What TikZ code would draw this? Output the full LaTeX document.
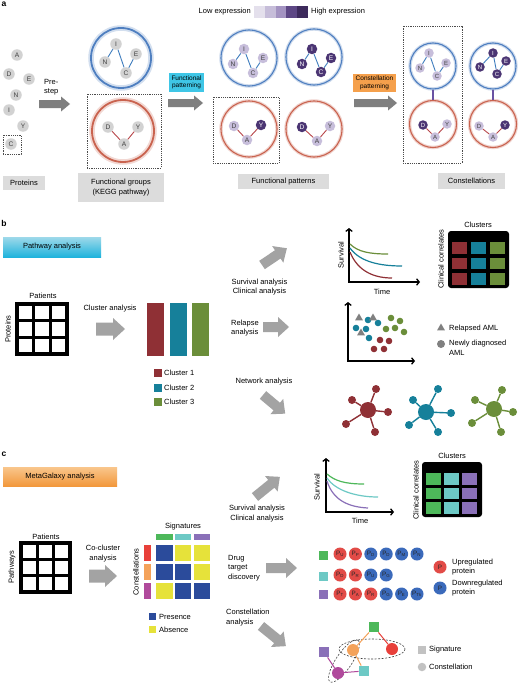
\documentclass[tikz,border=0pt]{standalone}
\usepackage{fontspec}
\setmainfont{Liberation Sans}
\usetikzlibrary{arrows.meta,shapes.geometric}
\definecolor{agrayA}{HTML}{7F7F7F}
\definecolor{agray}{HTML}{A3A3A3}
\definecolor{boxgray}{HTML}{DCDCDC}
\definecolor{protgray}{HTML}{D2D2D2}
\definecolor{lightpur}{HTML}{C7BEDB}
\definecolor{darkpur}{HTML}{4B3573}
\definecolor{ringblue}{HTML}{4F7FC0}
\definecolor{ringred}{HTML}{C9634F}
\definecolor{edgeblue}{HTML}{3F7DBE}
\definecolor{edgered}{HTML}{B8464A}
\definecolor{conpur}{HTML}{6A52A2}
\definecolor{ex1}{HTML}{E4E0EC}
\definecolor{ex2}{HTML}{C6BDD9}
\definecolor{ex3}{HTML}{A393C1}
\definecolor{ex4}{HTML}{5D4785}
\definecolor{ex5}{HTML}{3D2A5C}
\definecolor{cyanbox}{HTML}{3FC6E6}
\definecolor{orangebox}{HTML}{F5A04C}
\definecolor{cred}{HTML}{8F3035}
\definecolor{cteal}{HTML}{16809A}
\definecolor{cgreen}{HTML}{6B8E3A}
\definecolor{sgreen}{HTML}{4DB85A}
\definecolor{scyan}{HTML}{6DC9C5}
\definecolor{spurple}{HTML}{8A70B8}
\definecolor{cnred}{HTML}{E8403A}
\definecolor{cnorange}{HTML}{F4A25A}
\definecolor{cnmag}{HTML}{B04A9C}
\definecolor{mblue}{HTML}{2B4B9B}
\definecolor{myellow}{HTML}{E6E23A}
\definecolor{pred}{HTML}{E24B47}
\definecolor{pblue}{HTML}{3B6ABB}
\definecolor{legray}{HTML}{C2C2C2}
\definecolor{trigray}{HTML}{808080}
\definecolor{pathtop}{HTML}{9ED9EA}
\definecolor{pathbot}{HTML}{1FB3DC}
\definecolor{metatop}{HTML}{F9C68C}
\definecolor{metabot}{HTML}{F2983C}
\newcommand{\barrow}[8]{\fill[#8,shift={(#1,#2)},rotate=#3] (0,-#5/2) -- ({#4-#7},-#5/2) -- ({#4-#7},-#6/2) -- (#4,0) -- ({#4-#7},#6/2) -- ({#4-#7},#5/2) -- (0,#5/2) -- cycle;}
\newcommand{\patgrid}[4]{%
  \fill[white] (#1,#2) rectangle (#3,#4);
  \foreach \k in {1,2} {
    \draw[line width=3.4pt] ({#1+\k*(#3-#1)/3},#2) -- ({#1+\k*(#3-#1)/3},#4);
    \draw[line width=3.4pt] (#1,{#2+\k*(#4-#2)/3}) -- (#3,{#2+\k*(#4-#2)/3});
  }
  \draw[line width=3.4pt] (#1,#2) rectangle (#3,#4);
}
\begin{document}
\begin{tikzpicture}[x=1pt,y=-1pt,
 txt/.style={inner sep=0pt,font=\fontsize{7.5}{9.5}\selectfont,align=center},
 small/.style={inner sep=0pt,font=\fontsize{6.5}{7.6}\selectfont,align=center},
 lbl/.style={inner sep=0pt,font=\fontsize{8.5}{10}\selectfont\bfseries},
 gbox/.style={txt,fill=boxgray},
 pn/.style={circle,fill=protgray,minimum size=11.5pt,inner sep=0pt,font=\fontsize{6.6}{7}\selectfont,text=black!75},
 lo/.style={pn,fill=lightpur,minimum size=10.5pt},
 hi/.style={pn,fill=darkpur,text=white,minimum size=10.5pt},
 clo/.style={lo,minimum size=9.5pt,font=\fontsize{6}{6.5}\selectfont},
 chi/.style={hi,minimum size=9.5pt,font=\fontsize{6}{6.5}\selectfont},
 bring/.style={circle,draw=ringblue,line width=1.1pt,inner sep=0pt,preaction={draw=ringblue!28,line width=3.4pt}},
 rring/.style={circle,draw=ringred,line width=1.1pt,inner sep=0pt,preaction={draw=ringred!28,line width=3.4pt}},
 bringg/.style={circle,draw=ringblue,line width=1.8pt,inner sep=0pt,preaction={draw=ringblue!25,line width=5.5pt}},
 rringg/.style={circle,draw=ringred,line width=1.8pt,inner sep=0pt,preaction={draw=ringred!25,line width=5.5pt}},
 ebl/.style={draw=edgeblue,line width=0.9pt},
 erd/.style={draw=edgered,line width=0.9pt},
 dbox/.style={draw=black!70,dash pattern=on 1.2pt off 1pt,line width=0.5pt,inner sep=0pt},
 axis/.style={line width=1.3pt,{Straight Barb[length=2.6pt,width=6.5pt]}-{Straight Barb[length=2.6pt,width=6.5pt]}},
 curve/.style={line width=1.2pt},
 cell/.style={inner sep=0pt,minimum width=15pt,minimum height=11.5pt},
 dot/.style={circle,inner sep=0pt,minimum size=6.6pt,fill=#1},
 tri/.style={regular polygon,regular polygon sides=3,inner sep=0pt,minimum size=9pt,fill=trigray},
 hub/.style={circle,inner sep=0pt,minimum size=16pt,fill=#1},
 sat/.style={circle,inner sep=0pt,minimum size=8pt,fill=#1},
 pc/.style={circle,inner sep=0pt,minimum size=13pt,fill=#1,font=\fontsize{6.3}{6.5}\selectfont,text=black!85},
 sq/.style={inner sep=0pt,minimum size=10.5pt,fill=#1},
 cn/.style={circle,inner sep=0pt,minimum size=12pt,fill=#1},
 dsh/.style={draw=black!75,dash pattern=on 2pt off 1.5pt,line width=0.6pt},
]
\useasboundingbox (0,0) rectangle (522,685);
\fill[white] (0,0) rectangle (522,685);

%================ panel a =================
\node[lbl] (la) at (4,4) {a};
\node[pn] (pA) at (17,55) {A};
\node[pn] (pD) at (9,74) {D};
\node[pn] (pE) at (29,79) {E};
\node[pn] (pN) at (16,95) {N};
\node[pn] (pI) at (9,110) {I};
\node[pn] (pY) at (23,126) {Y};
\node[pn] (pC) at (11,144) {C};
\node[dbox,minimum width=18pt,minimum height=19pt] (selC) at (12,144.5) {};
\node[txt,anchor=west,align=left] (prestep) at (44,87) {Pre-\\step};
\barrow{39}{104}{0}{31}{8}{15}{9}{agrayA}
\node[gbox,minimum width=42pt,minimum height=14pt] (tProt) at (24,183) {Proteins};

% functional groups
\node[bringg,minimum size=60pt] (gB) at (121,58) {};
\node[pn] (gI) at (116,44) {I};
\node[pn] (gN) at (105,62) {N};
\node[pn] (gC) at (126,73) {C};
\node[pn] (gE) at (136,54) {E};
\draw[ebl] (gN) -- (gI) -- (gC) -- (gE);
\node[dbox,minimum width=74pt,minimum height=74pt] (gsel) at (124,131) {};
\node[rringg,minimum size=62pt] (gR) at (123,131) {};
\node[pn] (gD) at (108,127) {D};
\node[pn] (gY) at (138,127) {Y};
\node[pn] (gA) at (124,144) {A};
\draw[erd] (gD) -- (gA) -- (gY);
\node[gbox,minimum width=86pt,minimum height=29pt] (tFG) at (121,187.5) {Functional groups\\(KEGG pathway)};

% functional patterning
\node[small,fill=cyanbox,minimum width=35pt,minimum height=19pt] (fpat) at (186.5,82.5) {Functional\\patterning};
\barrow{168}{103}{0}{35}{8}{15}{9}{agrayA}

% expression legend
\node[txt,anchor=east] (lowx) at (251,12) {Low expression};
\foreach \c [count=\i from 0] in {ex1,ex2,ex3,ex4,ex5} \fill[\c] ({254+\i*10.8},6) rectangle ++(10.8,12);
\node[txt,anchor=west] (highx) at (311,12) {High expression};

% functional patterns
\node[bring,minimum size=56pt] (fpB1) at (249,58) {};
\node[bring,minimum size=56pt] (fpB2) at (314,57) {};
\node[dbox,minimum width=66pt,minimum height=66pt] (fpsel) at (246,130) {};
\node[rring,minimum size=56pt] (fpR1) at (249,129) {};
\node[rring,minimum size=56pt] (fpR2) at (314,129) {};
\node[lo] (f1I) at (244,49) {I};
\node[lo] (f1N) at (233,64) {N};
\node[lo] (f1C) at (253,73) {C};
\node[lo] (f1E) at (263,58) {E};
\draw[ebl] (f1N) -- (f1I) -- (f1C) -- (f1E);
\node[hi] (f2I) at (312,49) {I};
\node[hi] (f2N) at (302,64) {N};
\node[hi] (f2C) at (321,72) {C};
\node[hi] (f2E) at (331,58) {E};
\draw[ebl] (f2N) -- (f2I) -- (f2C) -- (f2E);
\node[lo] (f3D) at (234,126) {D};
\node[hi] (f3Y) at (261,125) {Y};
\node[lo] (f3A) at (247,140) {A};
\draw[erd] (f3D) -- (f3A) -- (f3Y);
\node[hi] (f4D) at (302,127) {D};
\node[lo] (f4Y) at (330,126) {Y};
\node[lo] (f4A) at (317,141) {A};
\draw[erd] (f4D) -- (f4A) -- (f4Y);
\node[gbox,minimum width=91pt,minimum height=15pt] (tFP) at (283.5,181.5) {Functional patterns};

% constellation patterning
\node[small,fill=orangebox,minimum width=43pt,minimum height=18pt] (cpat) at (374.5,83) {Constellation\\patterning};
\barrow{354}{103}{0}{43}{8}{15}{9}{agrayA}

% constellations
\node[dbox,minimum width=59pt,minimum height=137pt] (csel) at (432.5,94.5) {};
\node[bring,minimum size=46pt] (cB1) at (433,66) {};
\node[rring,minimum size=47pt] (cR1) at (433,124) {};
\node[bring,minimum size=46pt] (cB2) at (493,66) {};
\node[rring,minimum size=47pt] (cR2) at (493,124) {};
\draw[conpur,line width=2.2pt] (cB1) -- (cR1);
\draw[conpur,line width=2.2pt] (cB2) -- (cR2);
\node[clo] (k1I) at (429,53) {I};
\node[clo] (k1N) at (420,68) {N};
\node[clo] (k1C) at (437,76) {C};
\node[clo] (k1E) at (446,63) {E};
\draw[ebl] (k1N) -- (k1I) -- (k1C) -- (k1E);
\node[chi] (k2I) at (493,53) {I};
\node[chi] (k2N) at (480,67) {N};
\node[chi] (k2C) at (497,74) {C};
\node[chi] (k2E) at (506,61) {E};
\draw[ebl] (k2N) -- (k2I) -- (k2C) -- (k2E);
\node[chi] (k3D) at (423,125) {D};
\node[clo] (k3Y) at (447,124) {Y};
\node[clo] (k3A) at (435,137) {A};
\draw[erd] (k3D) -- (k3A) -- (k3Y);
\node[clo] (k4D) at (479,126) {D};
\node[chi] (k4Y) at (505,125) {Y};
\node[clo] (k4A) at (493,137) {A};
\draw[erd] (k4D) -- (k4A) -- (k4Y);
\node[gbox,minimum width=67pt,minimum height=16pt] (tCon) at (471.5,181) {Constellations};

%================ panel b =================
\node[lbl] (lb) at (4,223) {b};
\node[txt,shading=axis,top color=pathtop,bottom color=pathbot,minimum width=98pt,minimum height=20pt] (pathbox) at (52,247) {Pathway analysis};
\node[txt] (bpat) at (43,296) {Patients};
\patgrid{17}{304}{67}{354}
\node[txt,rotate=90] (bprot) at (8,329) {Proteins};
\node[txt] (bclu) at (110,309) {Cluster analysis};
\barrow{96}{329}{0}{29}{13}{22}{12}{agray}
\fill[cred] (147,303) rectangle (164,356);
\fill[cteal] (170,303) rectangle (187,356);
\fill[cgreen] (192,303) rectangle (209,356);
\node[sq=cred,minimum size=7.5pt] (lg1) at (158,373) {};
\node[txt,anchor=west] at (164,373) {Cluster 1};
\node[sq=cteal,minimum size=7.5pt] (lg2) at (158,388) {};
\node[txt,anchor=west] at (164,388) {Cluster 2};
\node[sq=cgreen,minimum size=7.5pt] (lg3) at (158,402) {};
\node[txt,anchor=west] at (164,402) {Cluster 3};

\barrow{262}{265}{34}{30}{10}{20}{11}{agray}
\node[txt] (bsurv) at (259.5,287) {Survival analysis\\Clinical analysis};
\barrow{263}{327}{0}{26}{10}{20}{11}{agray}
\node[txt,anchor=west,align=left] (brel) at (231,328) {Relapse\\analysis};
\node[txt] (bnet) at (264,382) {Network analysis};
\barrow{263}{395}{-40}{29}{10}{20}{11}{agray}

% survival plot b
\draw[axis] (349,228) -- (349,282) -- (420,282);
\draw[cgreen,curve] (350,244) .. controls (358,252) and (370,254) .. (388,254);
\draw[cteal,curve] (350,248) .. controls (360,262) and (380,266) .. (402,266);
\draw[cred,curve] (350,252) .. controls (358,272) and (375,278) .. (392,278);
\node[txt,rotate=90] (bsy) at (341,255) {Survival};
\node[txt] (bst) at (382,292) {Time};

% clusters table b
\node[txt] (bclh) at (478,225) {Clusters};
\node[txt,rotate=90] (bcc) at (441,259) {Clinical correlates};
\fill[black,rounded corners=3pt] (448,231) rectangle (509,288);
\foreach \r in {0,1,2} {
  \node[cell,fill=cred,anchor=north west] at (452,{242+\r*15.5}) {};
  \node[cell,fill=cteal,anchor=north west] at (471,{242+\r*15.5}) {};
  \node[cell,fill=cgreen,anchor=north west] at (490,{242+\r*15.5}) {};
}

% scatter b
\draw[axis] (348,302) -- (348,361) -- (415,361);
\foreach \p in {(368,320),(378,323),(356,328),(366,329),(369,338)} \node[dot=cteal] at \p {};
\foreach \p in {(391,318),(400,321),(386,329),(395,328),(404,332)} \node[dot=cgreen] at \p {};
\foreach \p in {(380,340),(389,341),(374,349),(384,349)} \node[dot=cred] at \p {};
\foreach \p in {(359,318),(373,318),(361,333)} \node[tri] at \p {};
\node[tri] (ltri) at (441,328) {};
\node[txt,anchor=west] (lrel) at (449,329) {Relapsed AML};
\node[circle,fill=trigray,inner sep=0pt,minimum size=8pt] (lcir) at (441,344) {};
\node[txt,anchor=west,align=left] (lnew) at (449,348) {Newly diagnosed\\AML};

% networks b
\node[hub=cred] (n1) at (368,410) {};
\node[sat=cred] (n1a) at (376,389) {};
\node[sat=cred] (n1b) at (352,400) {};
\node[sat=cred] (n1c) at (388,412) {};
\node[sat=cred] (n1d) at (346,424) {};
\node[sat=cred] (n1e) at (375,432) {};
\foreach \s in {a,b,c,d,e} \draw[cred,line width=1.4pt] (n1) -- (n1\s);
\node[hub=cteal] (n2) at (426,412) {};
\node[sat=cteal] (n2a) at (438,389) {};
\node[sat=cteal] (n2b) at (413,400) {};
\node[sat=cteal] (n2c) at (451,413) {};
\node[sat=cteal] (n2d) at (409,425) {};
\node[sat=cteal] (n2e) at (438,432) {};
\foreach \s in {a,b,c,d,e} \draw[cteal,line width=1.4pt] (n2) -- (n2\s);
\node[hub=cgreen] (n3) at (494,409) {};
\node[sat=cgreen] (n3a) at (502,390) {};
\node[sat=cgreen] (n3b) at (475,400) {};
\node[sat=cgreen] (n3c) at (513,412) {};
\node[sat=cgreen] (n3d) at (472,423) {};
\node[sat=cgreen] (n3e) at (501,432) {};
\foreach \s in {a,b,c,d,e} \draw[cgreen,line width=1.4pt] (n3) -- (n3\s);

%================ panel c =================
\node[lbl] (lc) at (4,454) {c};
\node[txt,shading=axis,top color=metatop,bottom color=metabot,minimum width=114pt,minimum height=19pt] (metabox) at (60,476.5) {MetaGalaxy analysis};
\node[txt] (cpatn) at (46,537) {Patients};
\patgrid{21}{543}{70}{592}
\node[txt,rotate=90] (cpath) at (12,567) {Pathways};
\node[txt] (cco) at (103,553.5) {Co-cluster\\analysis};
\barrow{89}{576}{0}{28}{13}{22}{12}{agray}
\node[txt] (csig) at (183,527) {Signatures};
\fill[sgreen] (156,534) rectangle (173,540);
\fill[scyan] (175,534) rectangle (191,540);
\fill[spurple] (194,534) rectangle (210,540);
\fill[cnred] (144,545) rectangle (151,561);
\fill[cnorange] (144,564) rectangle (151,580);
\fill[cnmag] (144,583) rectangle (151,599);
\node[txt,rotate=90] (ccons) at (136,572) {Constellations};
\fill[mblue] (156,545) rectangle (173,561);
\fill[myellow] (175,545) rectangle (191,561);
\fill[myellow] (194,545) rectangle (210,561);
\fill[mblue] (156,564) rectangle (173,580);
\fill[mblue] (175,564) rectangle (191,580);
\fill[myellow] (194,564) rectangle (210,580);
\fill[myellow] (156,583) rectangle (173,599);
\fill[mblue] (175,583) rectangle (191,599);
\fill[mblue] (194,583) rectangle (210,599);
\node[sq=mblue,minimum size=7pt] (lpres) at (152.5,616.5) {};
\node[txt,anchor=west] at (159,617) {Presence};
\node[sq=myellow,minimum size=7pt] (labs) at (152.5,629.5) {};
\node[txt,anchor=west] at (159,630) {Absence};

\barrow{255}{497}{39}{32}{10}{20}{11}{agray}
\node[txt] (csurv) at (257,513.5) {Survival analysis\\Clinical analysis};
\node[txt,anchor=west,align=left] (cdrug) at (228,568) {Drug\\target\\discovery};
\barrow{266}{568}{0}{31}{10}{20}{11}{agray}
\node[txt,anchor=west,align=left] (ccan) at (226,617.5) {Constellation\\analysis};
\barrow{261}{626}{-39}{32}{10}{20}{11}{agray}

% survival plot c
\draw[axis] (326,458) -- (326,512) -- (394,512);
\draw[sgreen,curve] (327,474) .. controls (335,481) and (345,484) .. (364,484);
\draw[scyan,curve] (327,478) .. controls (335,490) and (355,497) .. (378,497);
\draw[spurple,curve] (327,481) .. controls (333,500) and (348,507) .. (368,508);
\node[txt,rotate=90] (csy) at (317,487) {Survival};
\node[txt] (cst) at (360,521) {Time};

% clusters table c
\node[txt] (cclh) at (452,456) {Clusters};
\node[txt,rotate=90] (ccc) at (416,490) {Clinical correlates};
\fill[black,rounded corners=3pt] (422,462) rectangle (482,517);
\foreach \r in {0,1,2} {
  \node[cell,fill=sgreen,anchor=north west] at (426,{473+\r*14.5}) {};
  \node[cell,fill=scyan,anchor=north west] at (444,{473+\r*14.5}) {};
  \node[cell,fill=spurple,anchor=north west] at (462,{473+\r*14.5}) {};
}

% drug target rows
\node[sq=sgreen,minimum size=9pt] (r1s) at (323.5,555) {};
\node[sq=scyan,minimum size=9pt] (r2s) at (323.5,576) {};
\node[sq=spurple,minimum size=9pt] (r3s) at (323.5,594.5) {};
\foreach \lab/\col [count=\i from 0] in {U/pred,P/pred,D/pblue,D/pblue,M/pblue,N/pblue}
  \node[pc=\col] (r1p\i) at ({340+\i*15.4},554) {P\textsubscript{\lab}};
\foreach \lab/\col [count=\i from 0] in {D/pred,R/pred,U/pblue,G/pblue}
  \node[pc=\col] (r2p\i) at ({340+\i*15.4},575) {P\textsubscript{\lab}};
\foreach \lab/\col [count=\i from 0] in {T/pred,A/pred,R/pred,G/pblue,E/pblue,Tk/pblue}
  \node[pc=\col] (r3p\i) at ({340+\i*15.4},594) {P\textsubscript{\lab}};
\node[pc=pred] (lgup) at (440,567) {P};
\node[txt,anchor=west,align=left] (tup) at (452,567) {Upregulated\\protein};
\node[pc=pblue] (lgdn) at (440,588) {P};
\node[txt,anchor=west,align=left] (tdn) at (452,588) {Downregulated\\protein};

% constellation network c
\draw[dsh] (372,649) ellipse [x radius=33, y radius=10];
\draw[dsh,rotate around={56:(344,661)}] (344,661) ellipse [x radius=25, y radius=8];
\node[sq=sgreen] (csg) at (374,627) {};
\node[cn=cnred] (ccr) at (392,649) {};
\node[cn=cnorange] (cco2) at (353,650) {};
\node[sq=spurple] (csp) at (324,652) {};
\node[cn=cnmag] (ccm) at (338,673) {};
\node[sq=scyan] (csc) at (364,671) {};
\draw[cnorange,line width=1pt] (csg) -- (cco2);
\draw[cnred,line width=1pt] (csg) -- (ccr);
\draw[cnorange,line width=1pt] (cco2) -- (csc);
\draw[cnmag,line width=1pt] (csp) -- (ccm);
\draw[cnmag,line width=1pt] (csc) -- (ccm);
\node[sq=legray,minimum size=8.5pt] (lsig) at (422,650) {};
\node[txt,anchor=west] (tsig) at (429,650) {Signature};
\node[circle,fill=legray,inner sep=0pt,minimum size=8.5pt] (lcon) at (422,667) {};
\node[txt,anchor=west] (tcon) at (429,667) {Constellation};
\end{tikzpicture}
\end{document}
